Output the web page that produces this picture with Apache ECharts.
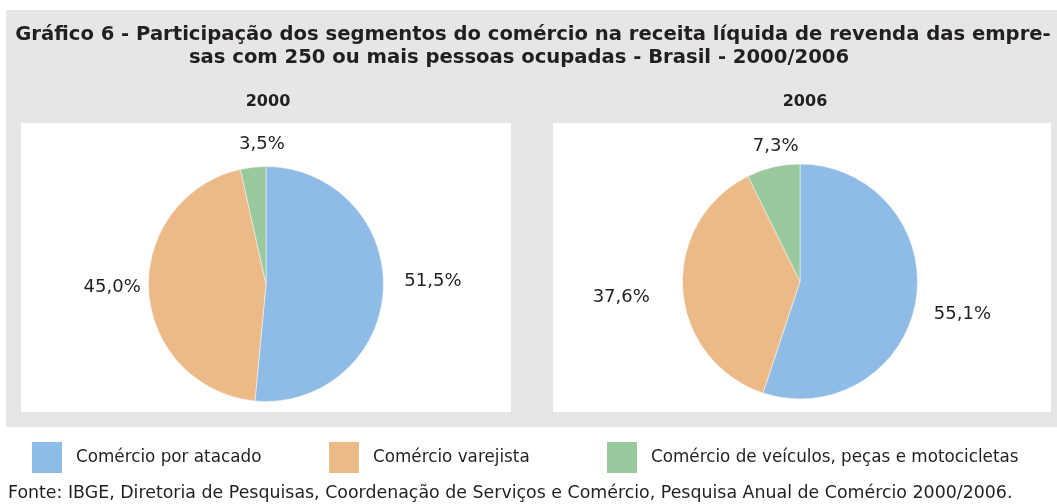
<!DOCTYPE html>
<html>
<head>
<meta charset="utf-8">
<script src="https://cdn.jsdelivr.net/npm/echarts@6/dist/echarts.min.js"></script>
<style>
  html, body { margin: 0; padding: 0; background: #fff; }
  #main { width: 1057px; height: 504px; }
</style>
</head>
<body>
<div id="main"></div>
<script>
var segmentos = ['Comércio por atacado', 'Comércio varejista', 'Comércio de veículos, peças e motocicletas'];
var anos = ['2000', '2006'];
var valores2000 = [51.5, 45.0, 3.5];
var valores2006 = [55.1, 37.6, 7.3];
var cores = ['#8fbce6', '#ebba87', '#9ac99d'];

// pequenos ajustes dos rótulos (dx, dy) por fatia
var ajusteRotulos = [
  [[4, -9], [9, -5], [38, -11]],
  [[1, 12], [-16, 7], [33, -9]]
];

var corTexto = '#231f20';
var fonte = '"DejaVu Sans", sans-serif';

function fmt(v) {
  return v.toFixed(1).replace('.', ',') + '%';
}

function fatias(valores) {
  return valores.map(function (v, i) {
    return { name: segmentos[i], value: v, itemStyle: { color: cores[i] } };
  });
}

var myChart = echarts.init(document.getElementById('main'));

function serie(valores, centro, idx) {
  return {
    type: 'pie',
    name: anos[idx],
    center: centro,
    radius: 117.5,
    startAngle: 90,
    clockwise: true,
    silent: true,
    data: fatias(valores),
    itemStyle: { borderColor: '#f4f4f4', borderWidth: 0.6 },
    label: {
      show: true,
      position: 'outside',
      color: corTexto,
      fontFamily: fonte,
      fontSize: 18,
      formatter: function (p) { return fmt(p.value); }
    },
    labelLine: { show: false, length: 12, length2: 0 },
    labelLayout: function (p) {
      var a = ajusteRotulos[p.seriesIndex][p.dataIndex];
      return { dx: a[0], dy: a[1] };
    },
    emphasis: { disabled: true }
  };
}

function legenda(i, x) {
  return {
    data: [segmentos[i]],
    left: x,
    top: 442,
    padding: 0,
    itemWidth: 30,
    itemHeight: 31,
    icon: 'rect',
    selectedMode: false,
    itemStyle: { borderWidth: 0 },
    textStyle: { color: corTexto, fontFamily: fonte, fontSize: 16.8, padding: [0, 0, 0, 9] }
  };
}

var fonteTitulo = 'bold 19.6px "DejaVu Sans", sans-serif';

var option = {
  animation: false,
  backgroundColor: '#fff',
  graphic: [
    { type: 'rect', shape: { x: 6, y: 10, width: 1051, height: 417 }, style: { fill: '#e5e6e8' }, z: -10 },
    { type: 'rect', shape: { x: 21, y: 123, width: 490, height: 289 }, style: { fill: '#fff' }, z: -9 },
    { type: 'rect', shape: { x: 553, y: 123, width: 498, height: 289 }, style: { fill: '#fff' }, z: -9 },
    { type: 'text', x: 533, y: 35, style: {
      text: 'Gráfico 6 - Participação dos segmentos do comércio na receita líquida de revenda das empre-',
      font: fonteTitulo, fill: corTexto, textAlign: 'center', textVerticalAlign: 'middle' } },
    { type: 'text', x: 519, y: 58, style: {
      text: 'sas com 250 ou mais pessoas ocupadas - Brasil - 2000/2006',
      font: fonteTitulo, fill: corTexto, textAlign: 'center', textVerticalAlign: 'middle' } },
    { type: 'text', x: 268, y: 102, style: {
      text: anos[0], font: 'bold 16px "DejaVu Sans", sans-serif', fill: corTexto, textAlign: 'center', textVerticalAlign: 'middle' } },
    { type: 'text', x: 805, y: 102, style: {
      text: anos[1], font: 'bold 16px "DejaVu Sans", sans-serif', fill: corTexto, textAlign: 'center', textVerticalAlign: 'middle' } },
    { type: 'text', x: 8, y: 493, style: {
      text: 'Fonte: IBGE, Diretoria de Pesquisas, Coordenação de Serviços e Comércio, Pesquisa Anual de Comércio 2000/2006.',
      font: '17.4px "DejaVu Sans", sans-serif', fill: corTexto, textAlign: 'left', textVerticalAlign: 'middle' } }
  ],
  legend: [legenda(0, 32), legenda(1, 329), legenda(2, 607)],
  series: [
    serie(valores2000, [266, 284], 0),
    serie(valores2006, [800, 281.5], 1)
  ]
};

myChart.setOption(option);
</script>
</body>
</html>
